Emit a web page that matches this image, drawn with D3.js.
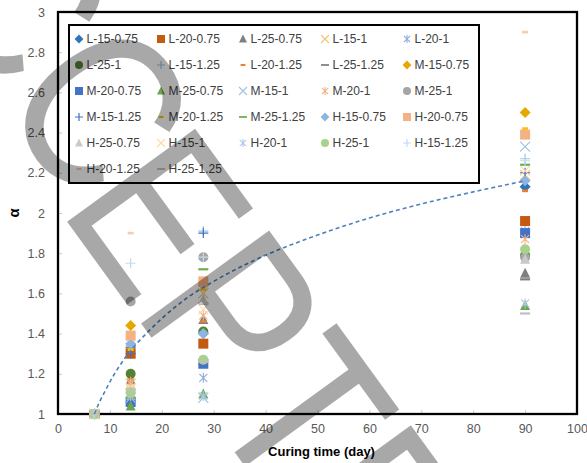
<!DOCTYPE html>
<html>
<head>
<meta charset="utf-8">
<script src="https://cdn.jsdelivr.net/npm/d3@7"></script>
<style>
  body { margin: 0; background: #fff; }
  svg { display: block; font-family: "Liberation Sans", Arial, sans-serif; }
</style>
</head>
<body>
<div id="chart"></div>
<script>
// data
var days = [7, 14, 28, 90];
var seriesNames = [
  "L-15-0.75", "L-20-0.75", "L-25-0.75", "L-15-1", "L-20-1",
  "L-25-1", "L-15-1.25", "L-20-1.25", "L-25-1.25", "M-15-0.75",
  "M-20-0.75", "M-25-0.75", "M-15-1", "M-20-1", "M-25-1",
  "M-15-1.25", "M-20-1.25", "M-25-1.25", "H-15-0.75", "H-20-0.75",
  "H-25-0.75", "H-15-1", "H-20-1", "H-25-1", "H-15-1.25",
  "H-20-1.25", "H-25-1.25"
];
var alpha7  = [1, 1, 1, 1, 1, 1, 1, 1, 1, 1, 1, 1, 1, 1, 1, 1, 1, 1, 1, 1, 1, 1, 1, 1, 1, 1, 1];
var alpha14 = [1.06, 1.30, 1.17, 1.15, 1.07, 1.20, 1.34, 1.17, 1.33, 1.44,
               1.06, 1.04, 1.08, 1.16, 1.56, 1.30, 1.32, 1.08, 1.35, 1.39,
               1.11, 1.13, 1.09, 1.11, 1.75, 1.90, 1.12];
var alpha28 = [1.40, 1.35, 1.47, 1.60, 1.18, 1.41, 1.91, 1.46, 1.55, 1.64,
               1.25, 1.10, 1.08, 1.49, 1.78, 1.90, 1.62, 1.72, 1.40, 1.66,
               1.57, 1.52, 1.09, 1.27, 1.78, 1.63, 1.26];
var alpha90 = [2.13, 1.96, 1.70, 2.19, 1.91, 1.79, 2.27, 2.11, 1.67, 2.50,
               1.90, 1.54, 2.33, 1.87, 1.78, 2.20, 2.42, 2.24, 2.16, 2.39,
               1.77, 2.21, 1.55, 1.82, 2.26, 2.90, 1.50];

// dashed trend curve
var trendDays  = [7, 8, 9, 10, 12, 14, 17, 20, 25, 30, 40, 50, 60, 70, 80, 90];
var trendAlpha = [1.00, 1.06, 1.11, 1.16, 1.245, 1.315, 1.40, 1.475, 1.58, 1.66,
                  1.79, 1.89, 1.975, 2.045, 2.105, 2.16];

var xTicks = [0, 10, 20, 30, 40, 50, 60, 70, 80, 90, 100];
var yTicks = [1, 1.2, 1.4, 1.6, 1.8, 2, 2.2, 2.4, 2.6, 2.8, 3];

// styles
var markerTypes = ["diamond", "square", "triangle", "x", "star", "circle", "plus", "dash", "longdash"];
var colors = [
  "#2e75b6", "#c55a11", "#7f7f7f", "#f2c47a", "#8faadc",
  "#548235", "#9dc3e6", "#ed7d31", "#7f7f7f", "#e6a800",
  "#4472c4", "#6aa84f", "#9dc3e6", "#f4b183", "#a5a5a5",
  "#4472c4", "#ffc000", "#70ad47", "#8eb4e3", "#f4b183",
  "#c9c9c9", "#ffd8a8", "#b4c7e7", "#a9d18e", "#c5d9f1",
  "#f8cbad", "#bfbfbf"
];

var width = 587, height = 463;
var margin = { top: 12, left: 58, right: 10, bottom: 49 };

var svg = d3.select("#chart").append("svg")
  .attr("width", width)
  .attr("height", height);

var x = d3.scaleLinear().domain([0, 100]).range([margin.left, width - margin.right]);
var y = d3.scaleLinear().domain([1, 3]).range([height - margin.bottom, margin.top]);

// tick marks (inside) and labels
var gx = svg.append("g")
  .attr("transform", "translate(0," + y(1) + ")")
  .call(d3.axisBottom(x).tickValues(xTicks).tickSize(-4).tickPadding(10).tickFormat(d3.format("d")));
var gy = svg.append("g")
  .attr("transform", "translate(" + x(0) + ",0)")
  .call(d3.axisLeft(y).tickValues(yTicks).tickSize(-4).tickPadding(13).tickFormat(d3.format("~g")));

[gx, gy].forEach(function(g) {
  g.select(".domain").remove();
  g.selectAll(".tick line").attr("stroke", "#c8c8c8");
  g.selectAll(".tick text")
    .attr("fill", "#595959")
    .style("font-size", "12.5px")
    .style("font-family", "Liberation Sans, Arial, sans-serif");
});

// plot frame
svg.append("rect")
  .attr("x", x(0)).attr("y", y(3))
  .attr("width", x(100) - x(0)).attr("height", y(1) - y(3))
  .attr("fill", "none").attr("stroke", "#000").attr("stroke-width", 2.3);

// axis titles
svg.append("text")
  .attr("x", (x(0) + x(100)) / 2 + 4)
  .attr("y", 456)
  .attr("text-anchor", "middle")
  .style("font-size", "13px").style("font-weight", "bold")
  .attr("fill", "#000")
  .text("Curing time (day)");

svg.append("text")
  .attr("transform", "translate(19," + y(2) + ") rotate(-90)")
  .attr("text-anchor", "middle")
  .style("font-size", "15px").style("font-weight", "bold")
  .attr("fill", "#000")
  .text("α");

function drawMarker(g, type, color, k) {
  var s = 5 * k;
  switch (type) {
    case "diamond":
      g.append("path").attr("d", "M0," + (-s * 1.1) + "L" + (s * 1.1) + ",0L0," + (s * 1.1) + "L" + (-s * 1.1) + ",0Z").attr("fill", color);
      break;
    case "square":
      g.append("rect").attr("x", -s).attr("y", -s).attr("width", 2 * s).attr("height", 2 * s).attr("fill", color);
      break;
    case "triangle":
      g.append("path").attr("d", "M0," + (-s * 1.1) + "L" + s + "," + (s * 0.9) + "L" + (-s) + "," + (s * 0.9) + "Z").attr("fill", color);
      break;
    case "x":
      g.append("path").attr("d", "M" + (-s) + "," + (-s) + "L" + s + "," + s + "M" + (-s) + "," + s + "L" + s + "," + (-s))
        .attr("stroke", color).attr("stroke-width", 1.1).attr("fill", "none");
      break;
    case "star":
      g.append("path").attr("d", "M" + (-s * 0.8) + "," + (-s * 0.8) + "L" + (s * 0.8) + "," + (s * 0.8) + "M" + (-s * 0.8) + "," + (s * 0.8) + "L" + (s * 0.8) + "," + (-s * 0.8) + "M0," + (-s) + "L0," + s)
        .attr("stroke", color).attr("stroke-width", 1.1).attr("fill", "none");
      break;
    case "circle":
      g.append("circle").attr("r", s).attr("fill", color);
      break;
    case "plus":
      g.append("path").attr("d", "M" + (-s) + ",0L" + s + ",0M0," + (-s) + "L0," + s)
        .attr("stroke", color).attr("stroke-width", 1.2).attr("fill", "none");
      break;
    case "dash":
      g.append("rect").attr("x", -3 * k).attr("y", -1.3 * k).attr("width", 6 * k).attr("height", 2.6 * k).attr("fill", color);
      break;
    case "longdash":
      g.append("rect").attr("x", -5 * k).attr("y", -1.1 * k).attr("width", 10 * k).attr("height", 2.2 * k).attr("fill", color);
      break;
  }
}

var allValues = [alpha7, alpha14, alpha28, alpha90];
var series = seriesNames.map(function(name, i) {
  return {
    name: name,
    marker: markerTypes[i % markerTypes.length],
    color: colors[i],
    points: days.map(function(d, j) { return { day: d, alpha: allValues[j][i] }; })
  };
});

// points
var pts = svg.append("g");
series.forEach(function(s) {
  s.points.forEach(function(p) {
    var g = pts.append("g").attr("transform", "translate(" + x(p.day) + "," + y(p.alpha) + ")");
    drawMarker(g, s.marker, s.color, 1);
  });
});

// trend line
var line = d3.line()
  .x(function(d, i) { return x(trendDays[i]); })
  .y(function(d) { return y(d); })
  .curve(d3.curveMonotoneX);
svg.append("path")
  .attr("d", line(trendAlpha))
  .attr("fill", "none")
  .attr("stroke", "#4e81bd")
  .attr("stroke-width", 1.6)
  .attr("stroke-dasharray", "4,3");

// legend
var legX = 69, legY = 25, legW = 410, legH = 158;
var leg = svg.append("g");
leg.append("rect")
  .attr("x", legX).attr("y", legY).attr("width", legW).attr("height", legH)
  .attr("fill", "#fff").attr("stroke", "#000").attr("stroke-width", 2);

series.forEach(function(s, i) {
  var col = i % 5, row = Math.floor(i / 5);
  var cx = 79 + col * 82, cy = 39 + row * 26;
  var g = leg.append("g").attr("transform", "translate(" + cx + "," + cy + ")");
  drawMarker(g, s.marker, s.color, 0.8);
  leg.append("text")
    .attr("x", cx + 7.5).attr("y", cy + 4.3)
    .style("font-size", "12px")
    .attr("fill", "#404040")
    .text(s.name);
});

// watermark
var wm = svg.append("text")
  .attr("transform", "translate(-176,-113) rotate(54) scale(0.82,1)")
  .style("font-size", "230px")
  .style("font-family", "Liberation Sans, Arial, sans-serif")
  .attr("fill", "#000")
  .attr("fill-opacity", 0.34);
wm.append("tspan").text("A");
wm.append("tspan").attr("dx", 14).attr("dy", -14).text("CC");
wm.append("tspan").attr("dx", -14).attr("dy", 14).text("EPTED");
</script>
</body>
</html>
